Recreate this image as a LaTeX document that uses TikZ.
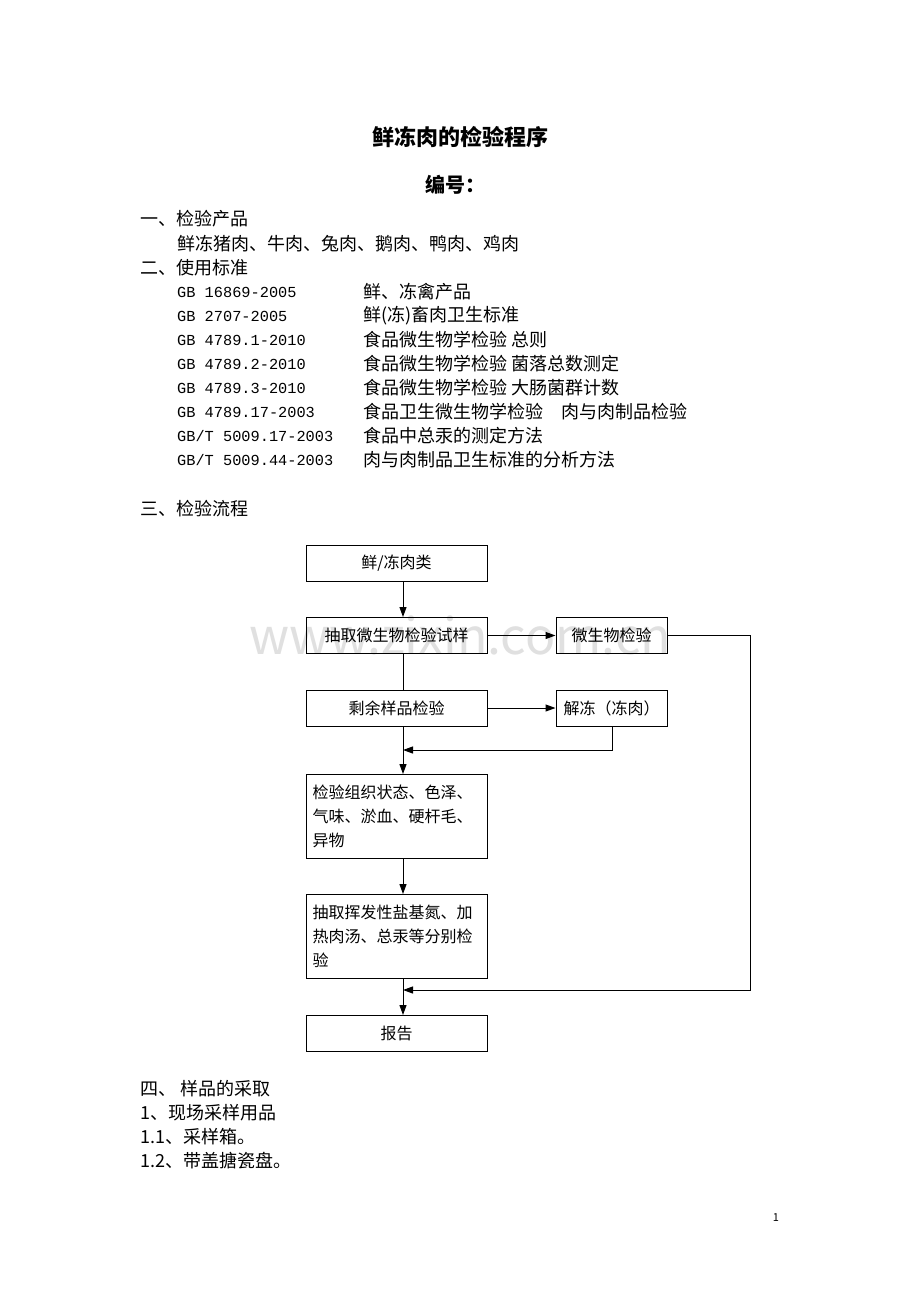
\documentclass[tikz,border=0pt]{standalone}
\usepackage{fontspec}
\setmainfont{Noto Sans CJK SC}
\newfontfamily\mono{Liberation Mono}
\usetikzlibrary{arrows.meta}
\begin{document}
\begin{tikzpicture}[x=1pt,y=-1pt,
  txt/.style={anchor=west,inner sep=0pt,font=\fontsize{18}{20}\selectfont},
  code/.style={anchor=west,inner sep=0pt,font=\mono\fontsize{15.3}{18}\selectfont},
  box/.style={draw,line width=1pt,minimum width=181pt,minimum height=36pt,font=\fontsize{16}{24}\selectfont,inner sep=0pt},
  sbox/.style={box,minimum width=111pt},
  arr/.style={-{Triangle[length=10pt,width=7pt]},line width=1pt},
  ln/.style={line width=1pt}]
\useasboundingbox[fill=white] (0,0) rectangle (920,1302);
\node[font=\fontsize{50}{50}\selectfont,text=black!12] (wm) at (460,635) {www.zixin.com.cn};
\node[font=\bfseries\fontsize{22}{26}\selectfont] (title) at (460,137) {鲜冻肉的检验程序};
\node[font=\bfseries\fontsize{20}{24}\selectfont] (num) at (455,185) {编号：};
\node[txt] (l1) at (140,219) {一、检验产品};
\node[txt] (l2) at (177,244) {鲜冻猪肉、牛肉、兔肉、鹅肉、鸭肉、鸡肉};
\node[txt] (l3) at (140,268) {二、使用标准};
\foreach \c/\d [count=\i] in {{GB 16869-2005}/{鲜、冻禽产品}, {GB 2707-2005}/{鲜(冻)畜肉卫生标准}, {GB 4789.1-2010}/{食品微生物学检验 总则}, {GB 4789.2-2010}/{食品微生物学检验 菌落总数测定}, {GB 4789.3-2010}/{食品微生物学检验 大肠菌群计数}, {GB 4789.17-2003}/{食品卫生微生物学检验\quad 肉与肉制品检验}, {GB/T 5009.17-2003}/{食品中总汞的测定方法}, {GB/T 5009.44-2003}/{肉与肉制品卫生标准的分析方法}}{
  \node[code] (c\i) at (177,268+24*\i) {\c};
  \node[txt] (d\i) at (363,268+24*\i) {\d};
}
\node[txt] (l4) at (140,509) {三、检验流程};
\node[box] (A) at (396.5,563) {鲜/冻肉类};
\node[box] (B) at (396.5,635.5) {抽取微生物检验试样};
\node[sbox] (C) at (611.5,635.5) {微生物检验};
\node[box] (D) at (396.5,708) {剩余样品检验};
\node[sbox] (E) at (611.5,708) {解冻（冻肉）};
\node[box,minimum height=84pt,align=left,text width=168pt] (F) at (396.5,816) {检验组织状态、色泽、\\气味、淤血、硬杆毛、\\异物};
\node[box,minimum height=84pt,align=left,text width=168pt] (G) at (396.5,936) {抽取挥发性盐基氮、加\\热肉汤、总汞等分别检\\验};
\node[box] (H) at (396.5,1033) {报告};
\coordinate (j1) at (403,750);
\coordinate (j2) at (403,990);
\draw[arr] (403,581) -- (403,617);
\draw[arr] (B.east) -- (C.west);
\draw[ln] (403,654) -- (403,690);
\draw[arr] (D.east) -- (E.west);
\draw[arr] (403,726) -- (403,774);
\draw[arr] (612,726) -- (612,750) -- (j1);
\draw[arr] (403,858) -- (403,894);
\draw[arr] (403,978) -- (403,1015);
\draw[arr] (C.east) -- (750,635.5) -- (750,990) -- (j2);
\node[txt] (m1) at (140,1089) {四、\ 样品的采取};
\node[txt] (m2) at (140,1113) {1、现场采样用品};
\node[txt] (m3) at (140,1137) {1.1、采样箱。};
\node[txt] (m4) at (140,1161) {1.2、带盖搪瓷盘。};
\node[font=\fontsize{11}{12}\selectfont] (pg) at (776,1218) {1};
\end{tikzpicture}
\end{document}
